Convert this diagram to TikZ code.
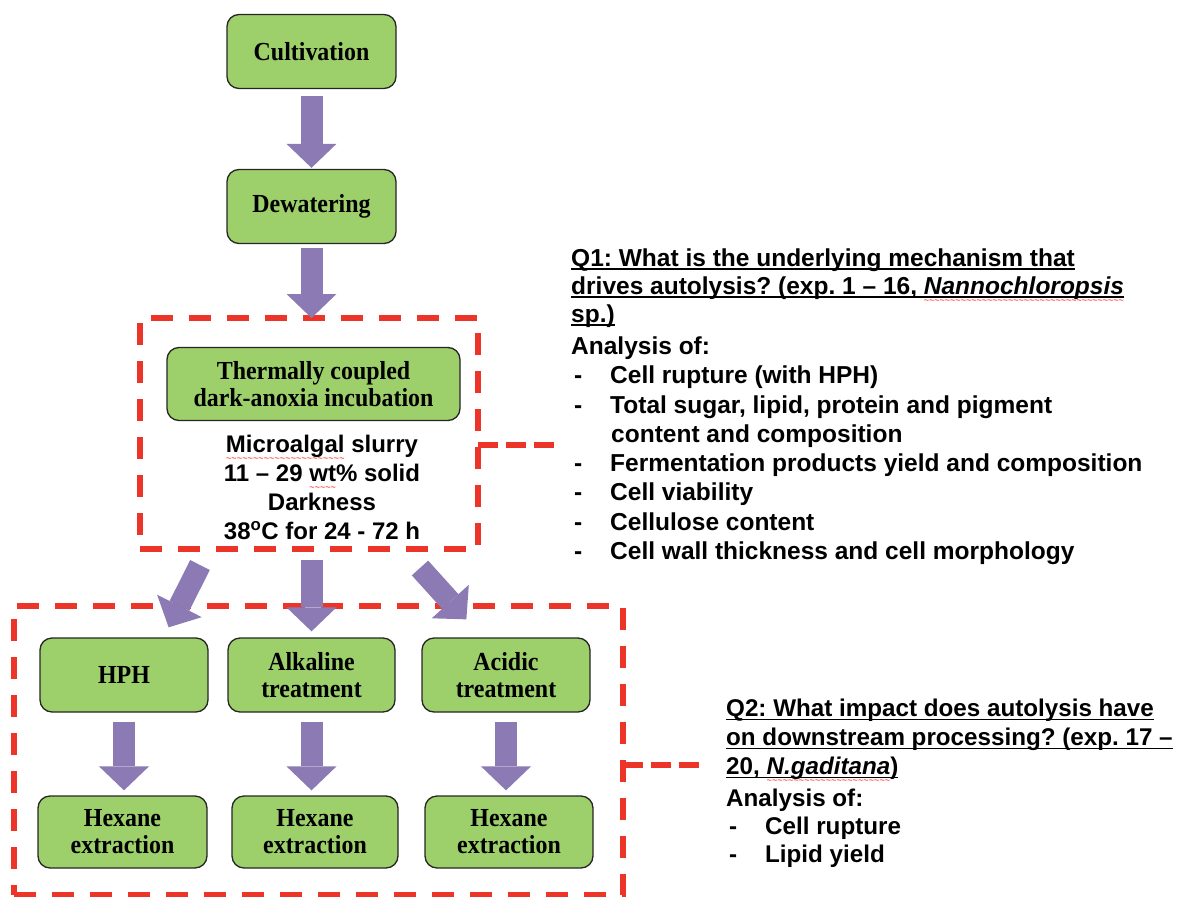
\documentclass[tikz,border=0pt]{standalone}
\usepackage{fontspec}
\setmainfont{Liberation Serif}
\setsansfont{Liberation Sans}
\newfontfamily\boxfont[FakeStretch=0.92]{Liberation Serif}
\newfontfamily\wavefont{Liberation Sans}
\usetikzlibrary{
    arrows.meta,
    calc,
    positioning
}
\frenchspacing

\definecolor{boxgreen}{RGB}{157,207,106}
\definecolor{arrowpurple}{RGB}{140,122,180}
\definecolor{dashred}{RGB}{236,52,40}

\newcommand{\underl}[1]{\setbox0\hbox{#1}\rlap{\rule[-3.2pt]{\wd0}{1.3pt}}\box0\relax}
\newcommand{\spellmark}[1]{\setbox2\hbox{#1}\rlap{\raisebox{-9pt}{\color{red}\hbox to \wd2{\xleaders\hbox{\wavefont\mdseries\fontsize{9}{9}\selectfont\char`\~}\hfil}}}\box2\relax}
\newcommand{\bullitem}[1]{\makebox[39pt][l]{\hspace{3pt}-}#1}

\tikzset{
    procbox/.style={draw=black!85, line width=1.3pt, fill=boxgreen,
        rounded corners=12pt, align=center, inner sep=0pt,
        minimum height=74pt, font=\boxfont\bfseries\fontsize{26}{27}\selectfont},
    fatarrow/.style={draw=arrowpurple, line width=22pt,
        -{Triangle[width=50pt, length=24pt, line width=0pt]}},
    dashbox/.style={draw=dashred, line width=5.5pt, outer sep=0pt,
        dash pattern=on 22pt off 16pt},
    dashlink/.style={draw=dashred, line width=5.5pt,
        dash pattern=on 20pt off 8pt},
    infotext/.style={font=\sffamily\bfseries\fontsize{24.5}{29.3}\selectfont,
        align=left, inner sep=0pt, anchor=north west}
}

\begin{document}
\begin{tikzpicture}[x=1pt, y=-1pt]
    \useasboundingbox (0, 0) rectangle (1184, 897);

    % upper chain
    \node[procbox, minimum width=169pt] (cult) at (311.5, 51.5) {Cultivation};
    \node[procbox, minimum width=169pt] (dew) at (311.5, 206.5) {Dewatering};
    \node[dashbox, minimum width=338pt, minimum height=231pt] (stage1) at (309, 433.5) {};
    \node[procbox, minimum width=293pt, minimum height=73pt] (incub) at (313.5, 384)
        {Thermally coupled\\dark-anoxia incubation};
    \node[infotext, anchor=north, align=center, font=\sffamily\bfseries\fontsize{24}{29}\selectfont]
        (cond) at (322, 435)
        {\spellmark{Microalgal} slurry\\
         11 -- 29 \spellmark{wt}\% solid\\
         Darkness\\
         38\textsuperscript{o}C for 24 - 72 h};

    % lower treatments
    \node[dashbox, minimum width=609pt, minimum height=289pt] (stage2) at (318.5, 750.5) {};
    \node[procbox, minimum width=168pt] (hph) at (124, 675) {HPH};
    \node[procbox, minimum width=167pt] (alk) at (311.5, 675) {Alkaline\\treatment};
    \node[procbox, minimum width=168pt] (acid) at (506, 675) {Acidic\\treatment};
    \node[procbox, minimum width=169pt, minimum height=72pt] (hex1) at (122.5, 832) {Hexane\\extraction};
    \node[procbox, minimum width=166pt, minimum height=72pt] (hex2) at (315, 832) {Hexane\\extraction};
    \node[procbox, minimum width=168pt, minimum height=72pt] (hex3) at (509, 832) {Hexane\\extraction};

    % arrows
    \draw[fatarrow, shorten <=7pt, shorten >=1pt] (cult) -- (dew);
    \draw[fatarrow, shorten <=4pt] (dew.south) -- (dew.south |- stage1.north);
    \draw[fatarrow] ($(stage1.south)+(-109, 16)$) -- ($(hph.north east)+(-40, -10)$);
    \draw[fatarrow, shorten <=11pt, shorten >=6pt] (stage1.south -| alk.north) -- (alk.north);
    \draw[fatarrow] ($(stage1.south)+(111, 19)$) -- ($(acid.north west)+(45, -18)$);
    \draw[fatarrow, shorten <=9pt, shorten >=5pt] (hph.south) -- (hph.south |- hex1.north);
    \draw[fatarrow, shorten <=9pt, shorten >=5pt] (alk.south) -- (alk.south |- hex2.north);
    \draw[fatarrow, shorten <=9pt, shorten >=5pt] (acid.south) -- (acid.south |- hex3.north);

    % questions
    \coordinate (q1end) at (555, 445);
    \draw[dashlink] (stage1.east |- q1end) -- (q1end);
    \node[infotext] (q1) at (571, 248.5)
        {\underl{Q1: What is the underlying mechanism that}\\[-1.3pt]
         \underl{drives autolysis? (exp. 1 -- 16, }\spellmark{\underl{\textit{Nannochloropsis}}}\\[-1.3pt]
         \underl{sp.)}\\[2.7pt]
         Analysis of:\\
         \bullitem{Cell rupture (with HPH)}\\
         \bullitem{Total sugar, lipid, protein and pigment}\\
         \hspace*{40pt}content and composition\\
         \bullitem{Fermentation products yield and composition}\\
         \bullitem{Cell viability}\\
         \bullitem{Cellulose content}\\
         \bullitem{Cell wall thickness and cell morphology}};

    \coordinate (q2end) at (700, 765);
    \draw[dashlink] (stage2.east |- q2end) -- (q2end);
    \node[infotext, font=\sffamily\bfseries\fontsize{24.2}{29.3}\selectfont] (q2) at (726, 699)
        {\underl{Q2: What impact does autolysis have}\\[-0.3pt]
         \underl{on downstream processing? (exp. 17 --}\\[-0.3pt]
         \underl{20, }\spellmark{\underl{\textit{N.gaditana}}}\underl{)}\\[2.2pt]
         Analysis of:\\[-1pt]
         \bullitem{Cell rupture}\\[-1pt]
         \bullitem{Lipid yield}};
\end{tikzpicture}
\end{document}
